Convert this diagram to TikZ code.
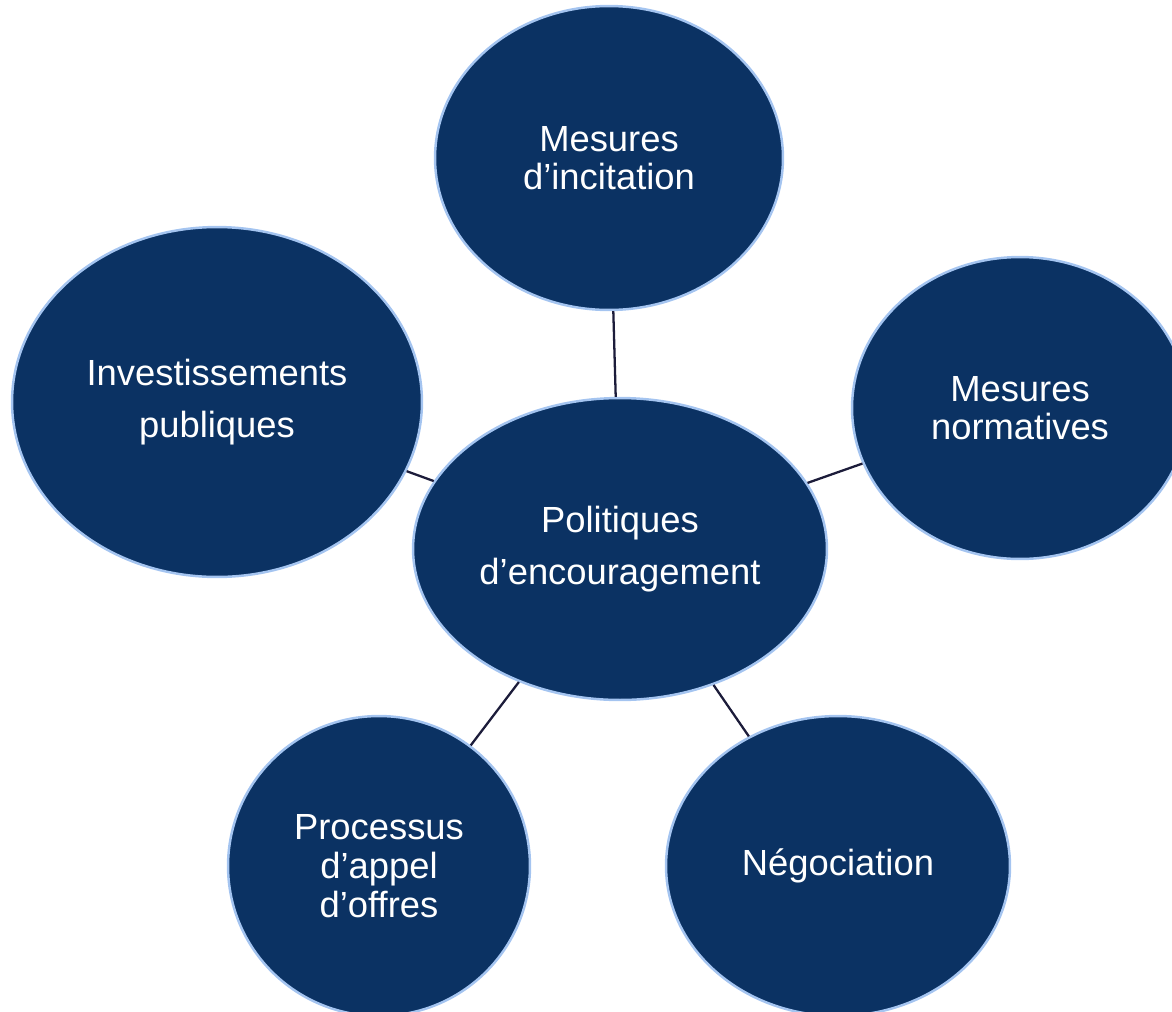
\documentclass[tikz,border=0pt]{standalone}
\usepackage{fontspec}
\setmainfont{Liberation Sans}
\usepackage{xcolor}
\usepackage{tikz}
\usetikzlibrary{shapes,positioning}

\definecolor{navyfill}{HTML}{0B3263}
\definecolor{rimblue}{HTML}{A4C4F0}
\definecolor{linkdark}{HTML}{1C1C3A}

\begin{document}
\begin{tikzpicture}[
      x=0.02cm, y=-0.02cm,
      bubble/.style={ellipse, draw=rimblue, line width=1.4pt, fill=navyfill, text=white, align=center, inner sep=0pt, font=\fontsize{20.7pt}{22pt}\selectfont},
      widebubble/.style={bubble, font=\fontsize{20.7pt}{30pt}\selectfont},
      link/.style={draw=linkdark, line width=1.3pt}
    ]
      \useasboundingbox (0,0) rectangle (1172,1011);

      % Centre
      \node[widebubble, minimum width=8.28cm, minimum height=6.04cm] (polit) at (620,549) {Politiques\\d'encouragement};

      % Outer ring
      \node[bubble, minimum width=6.96cm, minimum height=6.08cm] (incit) at (609,158) {Mesures\\d'incitation};
      \node[widebubble, minimum width=8.2cm, minimum height=7cm] (invest) at (217,402) {Investissements\\publiques};
      \node[bubble, minimum width=6.72cm, minimum height=6.04cm] (norm) at (1020,408) {Mesures\\normatives};
      \node[bubble, minimum width=6.04cm, minimum height=6cm] (appel) at (379,866) {Processus\\d'appel\\d'offres};
      \node[bubble, minimum width=6.88cm, minimum height=6cm] (nego) at (838,866) {Négociation};

      % Links
      \draw[link] (polit) -- (incit);
      \draw[link] (polit) -- (invest);
      \draw[link] (polit) -- (norm);
      \draw[link] (polit) -- (appel);
      \draw[link] (polit) -- (nego);
    \end{tikzpicture}
\end{document}
